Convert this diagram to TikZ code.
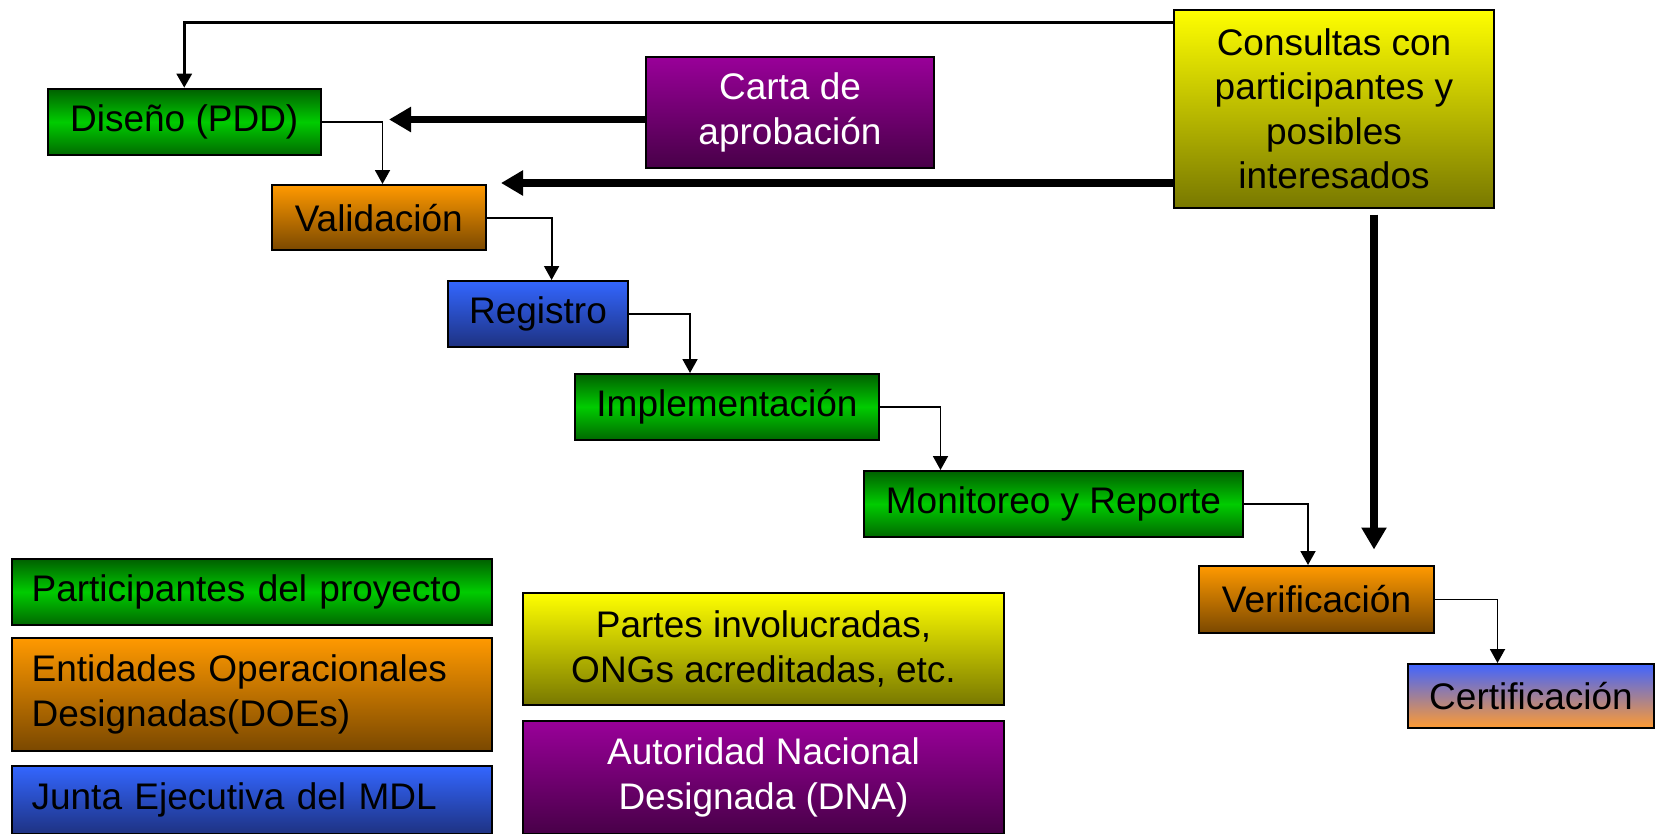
\documentclass[tikz,border=0pt]{standalone}
\usepackage{fontspec}
\setmainfont{Liberation Sans}
\usetikzlibrary{arrows.meta,calc}
\definecolor{gTop}{RGB}{0,96,0}
\definecolor{gMid}{RGB}{0,204,0}
\definecolor{gBot}{RGB}{0,105,0}
\definecolor{oTop}{RGB}{255,153,0}
\definecolor{oBot}{RGB}{122,72,0}
\definecolor{bTop}{RGB}{51,102,255}
\definecolor{bBot}{RGB}{30,50,130}
\definecolor{pTop}{RGB}{153,0,153}
\definecolor{pBot}{RGB}{72,0,72}
\definecolor{yTop}{RGB}{255,255,0}
\definecolor{yBot}{RGB}{120,120,0}
\definecolor{cTop}{RGB}{64,100,255}
\definecolor{cBot}{RGB}{255,155,50}
\begin{document}
\begin{tikzpicture}[x=1pt,y=-1pt,
  box/.style={draw=black, line width=2pt, inner sep=0pt, align=center, anchor=north west,
    font=\fontsize{37}{44.4}\selectfont},
  gbox/.style={top color=gTop, bottom color=gBot, middle color=gMid},
  obox/.style={top color=oTop, bottom color=oBot},
  bbox/.style={top color=bTop, bottom color=bBot},
  pbox/.style={top color=pTop, bottom color=pBot, text=white},
  ybox/.style={top color=yTop, bottom color=yBot},
  cbox/.style={top color=cTop, bottom color=cBot},
  lbox/.style={align=left, text width=440pt, inner xsep=20pt},
  link/.style={line width=1.9pt, -{Triangle[width=15pt,length=14pt]}},
  mid/.style={line width=3pt, -{Triangle[width=15pt,length=14pt]}},
  big/.style={line width=7.5pt, -{Triangle[width=24pt,length=22pt]}}]
\useasboundingbox (0,0) rectangle (1657,833);
% process nodes
\node[box,gbox,minimum width=273.5pt,minimum height=66.6pt] (dis) at (46.5,87.7) {Diseño (PDD)};
\node[box,obox,minimum width=214.5pt,minimum height=65.4pt] (val) at (270.5,184) {Validación};
\node[box,bbox,minimum width=180pt,minimum height=65.6pt] (reg) at (447,280) {Registro};
\node[box,gbox,minimum width=304pt,minimum height=65.6pt] (imp) at (574,373) {Implementación};
\node[box,gbox,minimum width=379pt,minimum height=66pt] (mon) at (863,470) {Monitoreo y Reporte};
\node[box,obox,minimum width=235pt,minimum height=67pt] (ver) at (1198,565) {Verificación};
\node[box,cbox,minimum width=246pt,minimum height=64pt] (cer) at (1407,663) {Certificación};
\node[box,pbox,minimum width=288pt,minimum height=111pt] (car) at (645,56) {Carta de\\aprobación};
\node[box,ybox,minimum width=320pt,minimum height=198.5pt] (con) at (1173,8.5) {Consultas con\\participantes y\\posibles\\interesados};
% legend
\node[box,gbox,lbox,minimum height=65.5pt] (l1) at (10.6,558) {Participantes del proyecto};
\node[box,obox,lbox,minimum height=113pt] (l2) at (10.6,637) {Entidades Operacionales\\Designadas(DOEs)};
\node[box,bbox,lbox,minimum height=68pt] (l3) at (10.6,765) {Junta Ejecutiva del MDL};
\node[box,ybox,minimum width=481pt,minimum height=112pt] (l4) at (522,592) {Partes involucradas,\\ONGs acreditadas, etc.};
\node[box,pbox,minimum width=481pt,minimum height=113pt] (l5) at (522,720) {Autoridad Nacional\\Designada (DNA)};
% thin connectors
\draw[link] (dis.east) -| ($(val.north west)+(112,0)$);
\draw[link] (val.east) -| ($(reg.north west)+(104.6,0)$);
\draw[link] (reg.east) -| ($(imp.north west)+(116,0)$);
\draw[link] (imp.east) -| ($(mon.north west)+(77.5,0)$);
\draw[link] (mon.east) -| ($(ver.north west)+(110,0)$);
\draw[link] (ver.east) -| ($(cer.north west)+(90.5,0)$);
% thick connectors
\coordinate (topy) at (0,22);
\coordinate (y183) at (0,183);
\coordinate (dtop) at (1374,214.5);
\draw[mid] (con.west |- topy) -| (dis.north);
\draw[big] ($(car.west)+(0,7)$) -- ++(-256,0);
\draw[big] (con.west |- y183) -- ++(-672,0);
\draw[big] (dtop) -- ($(ver.north -| dtop)+(0,-15.5)$);
\end{tikzpicture}
\end{document}
